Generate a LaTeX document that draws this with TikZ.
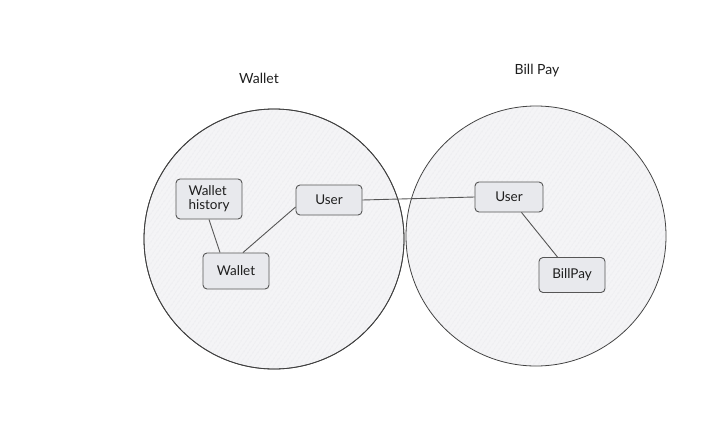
\documentclass[tikz,border=0pt]{standalone}
\usepackage{fontspec}
\setmainfont{Lato}
\usepackage{xcolor}
\usetikzlibrary{patterns.meta}
\definecolor{ink}{HTML}{1E1E1E}
\definecolor{edge}{HTML}{555555}
\definecolor{zone}{HTML}{F4F4F6}
\definecolor{hatch}{HTML}{D2D4D8}
\definecolor{boxfill}{HTML}{E8E9ED}
\tikzset{
  ring/.style={draw=ink!85, line width=0.8pt, fill=zone},
  hatchfill/.style={pattern={Lines[angle=55,distance=4pt,line width=0.35pt]}, pattern color=hatch},
  svc/.style={draw=ink!75, line width=0.9pt, fill=boxfill, rounded corners=4pt,
    minimum width=66pt, minimum height=30pt, inner sep=2pt, text=ink,
    font=\fontsize{13.5}{14}\selectfont},
  link/.style={draw=edge, line width=0.9pt},
  ttl/.style={text=ink, font=\fontsize{14}{15}\selectfont},
}
\begin{document}
\begin{tikzpicture}[x=1pt,y=-1pt]
  \useasboundingbox (0,0) rectangle (709,439);
  \coordinate (W) at (274,239);
  \coordinate (B) at (536,236);

  % the two domains
  \path[ring] (W) circle (130pt);
  \path[hatchfill] (W) circle (130pt);
  \path[ring] (B) circle (130pt);
  \path[hatchfill] (B) circle (130pt);
  \draw[ink!85, line width=0.8pt] (W) circle (130pt);

  \node[ttl] (wtitle) at (259,78) {Wallet};
  \node[ttl] (btitle) at (537,71) {Bill Pay};

  \node[svc, minimum height=40pt, align=left] (hist) at (209,199) {Wallet\\history};
  \node[svc] (userw) at (329,200) {User};
  \node[svc, minimum height=36pt] (wallet) at (236,271) {Wallet};
  \node[svc, minimum width=68pt] (userb) at (509,197) {User};
  \node[svc, minimum height=35pt] (bill) at (572,275) {BillPay};

  \draw[link] (hist.south) -- ([xshift=-16pt]wallet.north);
  \draw[link] ([yshift=-7pt]userw.west) -- ([xshift=7pt]wallet.north);
  \draw[link] (userw.east) -- (userb.west);
  \draw[link] (userb) -- (bill);
\end{tikzpicture}
\end{document}
